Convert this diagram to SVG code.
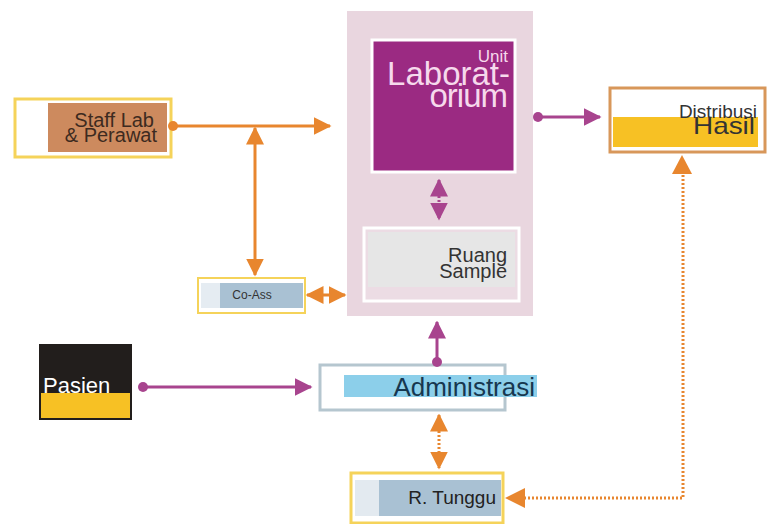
<svg xmlns="http://www.w3.org/2000/svg" width="768" height="524" viewBox="0 0 768 524">
  <style>
    .sans { font-family: "Liberation Sans", Arial, sans-serif; }
    .orange { stroke: #e8862e; stroke-width: 3; fill: none; }
    .purple { stroke: #a8448e; stroke-width: 3; fill: none; }
    .dots { stroke: #e8862e; stroke-width: 3; stroke-dasharray: 2 2; fill: none; }
    .pdots { stroke: #a8448e; stroke-width: 3; stroke-dasharray: 2 2; fill: none; }
  </style>
  <defs>
    <marker id="ao" markerWidth="6" markerHeight="6" refX="5.5" refY="3" orient="auto-start-reverse" markerUnits="strokeWidth">
      <path d="M0,0 L6,3 L0,6 Z" fill="#e8862e"/>
    </marker>
    <marker id="ap" markerWidth="6" markerHeight="6" refX="5.5" refY="3" orient="auto-start-reverse" markerUnits="strokeWidth">
      <path d="M0,0 L6,3 L0,6 Z" fill="#a8448e"/>
    </marker>
  </defs>
  <rect width="768" height="524" fill="#ffffff"/>

  <!-- Laboratory zone background -->
  <g id="zone-lab">
    <rect x="347" y="11" width="186" height="305" fill="#e9d6df"/>
  </g>

  <g id="unit-lab">
    <rect x="372" y="40" width="143" height="132" fill="#9b2a82" stroke="#ffffff" stroke-width="3"/>
    <text class="sans" x="508" y="62" font-size="17" fill="#f6d9ec" text-anchor="end">Unit</text>
    <text class="sans" x="510" y="85" font-size="33" fill="#f6d9ec" text-anchor="end">Laborat-</text>
    <text class="sans" x="507" y="107" font-size="33" fill="#f6d9ec" text-anchor="end" letter-spacing="-1">orium</text>
  </g>

  <g id="ruang-sample">
    <rect x="364" y="228" width="155" height="73" fill="#ecdce4" stroke="#ffffff" stroke-width="3"/>
    <rect x="368" y="232" width="147" height="55" fill="#e6e6e6"/>
    <text class="sans" x="507" y="262" font-size="20" fill="#333333" text-anchor="end">Ruang</text>
    <text class="sans" x="507" y="278" font-size="20" fill="#333333" text-anchor="end">Sample</text>
  </g>

  <g id="staff-lab">
    <rect x="15" y="99" width="156" height="58" fill="#ffffff" stroke="#f5d35a" stroke-width="3"/>
    <rect x="48" y="103" width="119" height="49" fill="#cd8a5e"/>
    <text class="sans" x="154" y="127" font-size="20" fill="#3d2a20" text-anchor="end">Staff Lab</text>
    <text class="sans" x="157" y="142" font-size="20" fill="#3d2a20" text-anchor="end">&amp; Perawat</text>
  </g>

  <g id="distribusi-hasil">
    <rect x="610" y="88" width="155" height="64" fill="#ffffff" stroke="#d8975a" stroke-width="3"/>
    <rect x="613" y="117" width="145" height="30" fill="#f7c124"/>
    <text class="sans" x="757" y="118" font-size="19" fill="#333333" text-anchor="end">Distribusi</text>
    <text class="sans" x="755" y="134" font-size="24" fill="#333333" text-anchor="end" textLength="62" lengthAdjust="spacingAndGlyphs">Hasil</text>
  </g>

  <g id="co-ass">
    <rect x="198" y="278" width="107" height="35" fill="#ffffff" stroke="#f5d35a" stroke-width="2"/>
    <rect x="220" y="283" width="83" height="25" fill="#a9c1d3"/>
    <rect x="201" y="283" width="19" height="25" fill="#e5ecf2"/>
    <text class="sans" x="252" y="299" font-size="12" fill="#333333" text-anchor="middle">Co-Ass</text>
  </g>

  <g id="pasien">
    <rect x="39" y="344" width="93" height="76" fill="#221e1c"/>
    <rect x="41" y="393" width="89" height="25" fill="#f7c124"/>
    <text class="sans" x="43" y="393" font-size="22" fill="#ffffff">Pasien</text>
  </g>

  <g id="administrasi">
    <rect x="320" y="365" width="185" height="45" fill="#ffffff" stroke="#b5c6cf" stroke-width="3"/>
    <rect x="344" y="375" width="193" height="22" fill="#8ccfea"/>
    <text class="sans" x="535" y="396" font-size="26" fill="#17374f" text-anchor="end">Administrasi</text>
  </g>

  <g id="r-tunggu">
    <rect x="351" y="473" width="152" height="50" fill="#ffffff" stroke="#f5d35a" stroke-width="3"/>
    <rect x="355" y="480" width="24" height="36" fill="#e3eaf0"/>
    <rect x="379" y="480" width="122" height="36" fill="#a9c1d3"/>
    <text class="sans" x="496" y="504" font-size="19" fill="#222222" text-anchor="end">R. Tunggu</text>
  </g>

  <!-- Connectors -->
  <g id="connectors">
    <!-- Staff Lab to laboratory -->
    <line class="orange" x1="173" y1="126" x2="330" y2="126" marker-end="url(#ao)"/>
    <circle cx="173" cy="126" r="5" fill="#e8862e"/>
    <!-- Staff line to Co-Ass -->
    <line class="orange" x1="255" y1="128" x2="255" y2="275" marker-start="url(#ao)" marker-end="url(#ao)"/>
    <!-- Co-Ass to laboratory zone -->
    <line class="orange" x1="307" y1="295" x2="345" y2="295" marker-start="url(#ao)" marker-end="url(#ao)"/>
    <!-- Unit Lab to Ruang Sample -->
    <line class="pdots" x1="439" y1="180" x2="439" y2="219" marker-start="url(#ap)" marker-end="url(#ap)"/>
    <!-- Unit Lab to Distribusi Hasil -->
    <line class="purple" x1="538" y1="117" x2="600" y2="117" marker-end="url(#ap)"/>
    <circle cx="538" cy="117" r="5" fill="#a8448e"/>
    <!-- Pasien to Administrasi -->
    <line class="purple" x1="143" y1="387" x2="311" y2="387" marker-end="url(#ap)"/>
    <circle cx="143" cy="387" r="5" fill="#a8448e"/>
    <!-- Administrasi to laboratory -->
    <line class="purple" x1="437" y1="362" x2="437" y2="322" marker-end="url(#ap)"/>
    <circle cx="437" cy="362" r="5" fill="#a8448e"/>
    <!-- Administrasi to R. Tunggu -->
    <line class="dots" x1="439" y1="415" x2="439" y2="468" marker-start="url(#ao)" marker-end="url(#ao)"/>
    <!-- R. Tunggu to Distribusi Hasil -->
    <path class="dots" d="M683,175 L683,498 L525,498"/>
    <path d="M505,498 L525,488 L525,508 Z" fill="#e8862e"/>
    <path d="M682,155 L672,174 L692,174 Z" fill="#e8862e"/>
  </g>
</svg>
